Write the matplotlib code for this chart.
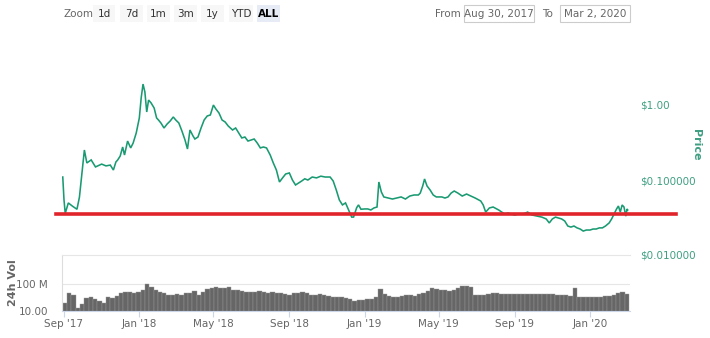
import matplotlib
matplotlib.use("Agg")
import matplotlib.pyplot as plt
import matplotlib.dates as mdates
from matplotlib.patches import Rectangle
from matplotlib.ticker import FixedLocator, FixedFormatter, NullLocator
import pandas as pd
from datetime import datetime

# ---------------- data ----------------
price_dates = [
    "2017-08-30", "2017-09-01", "2017-09-03", "2017-09-08", "2017-09-15", "2017-09-22", "2017-09-26",
    "2017-10-01", "2017-10-04", "2017-10-08", "2017-10-15", "2017-10-22",
    "2017-11-01", "2017-11-08", "2017-11-15", "2017-11-20", "2017-11-24", "2017-11-27",
    "2017-12-01", "2017-12-05", "2017-12-08", "2017-12-13", "2017-12-18", "2017-12-22", "2017-12-27",
    "2018-01-01", "2018-01-04", "2018-01-07", "2018-01-10", "2018-01-13", "2018-01-16", "2018-01-20", "2018-01-25", "2018-01-29",
    "2018-02-01", "2018-02-05", "2018-02-10", "2018-02-15", "2018-02-20", "2018-02-25",
    "2018-03-01", "2018-03-06", "2018-03-11", "2018-03-16", "2018-03-20", "2018-03-24", "2018-03-29",
    "2018-04-01", "2018-04-06", "2018-04-11", "2018-04-16", "2018-04-21", "2018-04-26",
    "2018-05-01", "2018-05-05", "2018-05-10", "2018-05-15", "2018-05-20", "2018-05-25",
    "2018-06-01", "2018-06-06", "2018-06-11", "2018-06-16", "2018-06-21", "2018-06-26",
    "2018-07-01", "2018-07-06", "2018-07-11", "2018-07-16", "2018-07-21", "2018-07-26",
    "2018-08-01", "2018-08-06", "2018-08-11", "2018-08-16", "2018-08-21", "2018-08-26",
    "2018-09-01", "2018-09-06", "2018-09-11", "2018-09-16", "2018-09-21", "2018-09-26",
    "2018-10-01", "2018-10-08", "2018-10-15", "2018-10-22", "2018-10-29",
    "2018-11-06", "2018-11-11", "2018-11-16", "2018-11-21", "2018-11-26",
    "2018-12-01", "2018-12-06", "2018-12-11", "2018-12-14", "2018-12-19", "2018-12-22", "2018-12-26",
    "2019-01-01", "2019-01-06", "2019-01-11", "2019-01-16", "2019-01-21", "2019-01-24", "2019-01-28",
    "2019-02-01", "2019-02-08", "2019-02-15", "2019-02-22",
    "2019-03-01", "2019-03-08", "2019-03-15", "2019-03-22", "2019-03-29",
    "2019-04-01", "2019-04-05", "2019-04-08", "2019-04-12", "2019-04-17", "2019-04-22", "2019-04-27",
    "2019-05-06", "2019-05-11", "2019-05-16", "2019-05-21", "2019-05-26",
    "2019-06-01", "2019-06-08", "2019-06-15", "2019-06-22", "2019-06-29",
    "2019-07-08", "2019-07-12", "2019-07-16", "2019-07-22", "2019-07-28",
    "2019-08-06", "2019-08-11", "2019-08-16", "2019-08-21", "2019-08-26",
    "2019-09-01", "2019-09-08", "2019-09-15", "2019-09-22", "2019-09-29",
    "2019-10-08", "2019-10-15", "2019-10-22", "2019-10-27",
    "2019-11-01", "2019-11-06", "2019-11-11", "2019-11-16", "2019-11-21", "2019-11-26",
    "2019-12-01", "2019-12-06", "2019-12-11", "2019-12-16", "2019-12-21", "2019-12-26",
    "2020-01-01", "2020-01-06", "2020-01-11", "2020-01-16", "2020-01-21", "2020-01-26",
    "2020-02-01", "2020-02-05", "2020-02-09", "2020-02-13", "2020-02-16", "2020-02-19", "2020-02-22", "2020-02-25", "2020-02-28",
    "2020-03-01", "2020-03-02",
]
price_values = [
    0.113, 0.056, 0.037, 0.051, 0.046, 0.042, 0.061,
    0.149, 0.259, 0.174, 0.191, 0.154,
    0.168, 0.159, 0.163, 0.140, 0.179, 0.191,
    0.215, 0.284, 0.222, 0.341, 0.276, 0.321, 0.437,
    0.692, 1.28, 1.96, 1.54, 0.832, 1.20, 1.10, 0.94, 0.692,
    0.651, 0.593, 0.509, 0.575, 0.631, 0.714,
    0.651, 0.593, 0.464, 0.352, 0.267, 0.479, 0.398,
    0.363, 0.386, 0.509, 0.651, 0.736, 0.759,
    1.03, 0.912, 0.807, 0.651, 0.612, 0.541,
    0.479, 0.509, 0.437, 0.375, 0.386, 0.341,
    0.352, 0.363, 0.321, 0.276, 0.284, 0.276,
    0.222, 0.174, 0.140, 0.097, 0.110, 0.124,
    0.128, 0.103, 0.0885, 0.094, 0.100, 0.107,
    0.103, 0.113, 0.110, 0.116, 0.113,
    0.113, 0.100, 0.0759, 0.0558, 0.048,
    0.051, 0.041, 0.033, 0.033, 0.044, 0.048, 0.042,
    0.0424, 0.0424, 0.0411, 0.0437, 0.045, 0.097, 0.0714,
    0.0613, 0.0593, 0.0575, 0.0593,
    0.0613, 0.0575, 0.0630, 0.0651, 0.0651,
    0.0690, 0.0858, 0.1064, 0.0858, 0.0759, 0.0651, 0.0613,
    0.0613, 0.0593, 0.0613, 0.0690, 0.0735,
    0.0690, 0.0630, 0.0670, 0.0630, 0.0593,
    0.0541, 0.0479, 0.0385, 0.0437, 0.0450,
    0.0411, 0.0385, 0.0364, 0.0374, 0.0364,
    0.0352, 0.0364, 0.0364, 0.0385, 0.0352,
    0.0340, 0.0330, 0.0312, 0.0276,
    0.0312, 0.0330, 0.0321, 0.0312, 0.0293, 0.0251,
    0.0243, 0.0251, 0.0237, 0.0229, 0.0215, 0.0222,
    0.0222, 0.0229, 0.0229, 0.0237, 0.0237, 0.0251,
    0.0276, 0.0312, 0.0364, 0.0424, 0.0464, 0.0385, 0.0479, 0.0450, 0.0340,
    0.0424, 0.0411,
]

# weekly 24h volume (in the chart's axis units), starting 2017-08-30
volume_start = "2017-08-30"
volume_values = [
    20, 48, 40, 13, 18, 30, 34, 28, 24, 20, 32, 30, 36, 45, 52, 50, 48, 50, 62, 100,
    75, 62, 52, 45, 39, 38, 41, 40, 48, 45, 55, 38, 52, 68, 73, 75, 74, 70, 75, 62,
    60, 55, 52, 52, 50, 53, 50, 48, 52, 45, 47, 44, 40, 48, 45, 52, 47, 40, 39, 41,
    38, 35, 34, 33, 32, 30, 27, 24, 26, 25, 27, 28, 34, 65, 42, 36, 34, 33, 36, 38,
    40, 37, 42, 45, 55, 72, 64, 60, 58, 57, 60, 70, 82, 82, 80, 40, 40, 39, 42, 47,
    45, 44, 43, 42, 43, 44, 44, 43, 42, 43, 43, 42, 41, 41, 40, 40, 38, 37, 70, 34,
    33, 32, 33, 34, 33, 35, 36, 40, 45, 50, 44,
]

support_level = 0.036
price_ticks = [1.0, 0.1, 0.01]
price_tick_labels = ["$1.00", "$0.100000", "$0.010000"]
vol_ticks = [10, 100]
vol_tick_labels = ["10.00", "100 M"]
zoom_buttons = ["1d", "7d", "1m", "3m", "1y", "YTD", "ALL"]
date_from = "Aug 30, 2017"
date_to = "Mar 2, 2020"

# ---------------- styling ----------------
plt.rcParams['font.family'] = ['Liberation Sans Narrow', 'DejaVu Sans']
GREEN = "#1a9a72"
LABEL_GREEN = "#3f9f82"
GREY_TXT = "#666666"

W, H = 710, 338
fig = plt.figure(figsize=(W / 100, H / 100), dpi=100)
fig.patch.set_facecolor("white")

def fx(px):
    return px / W

def fy(py):
    return 1 - py / H

# date <-> pixel mapping  (Sep 1 2017 at x=64, 0.6174 px/day)
ref = mdates.date2num(datetime(2017, 9, 1))
ppd = 0.6174
ax_left, ax_right = 62, 630
xlim = (ref - (64 - ax_left) / ppd, ref + (ax_right - 64) / ppd)

# ---------------- price axes ----------------
p_top, p_bot = 40, 256
axp = fig.add_axes([fx(ax_left), fy(p_bot), fx(ax_right - ax_left), (p_bot - p_top) / H])
axp.plot(pd.to_datetime(price_dates), price_values, color=GREEN, lw=1.15,
         solid_joinstyle="miter", zorder=3)
axp.set_yscale("log")
decade = 75.0
axp.set_ylim(0.01, 10 ** ((p_bot - p_top) / decade - 2))
axp.set_xlim(*xlim)
for s in axp.spines.values():
    s.set_visible(False)
axp.xaxis.set_major_locator(NullLocator())
axp.xaxis.set_minor_locator(NullLocator())
axp.yaxis.set_major_locator(NullLocator())
axp.yaxis.set_minor_locator(NullLocator())
axp.patch.set_alpha(0)
for v, lab in zip(price_ticks, price_tick_labels):
    axp.annotate(lab, xy=(1, v), xycoords=("axes fraction", "data"),
                 xytext=(10, 0), textcoords="offset pixels",
                 ha="left", va="center", fontsize=7.5, color=LABEL_GREEN,
                 annotation_clip=False)
fig.text(fx(696), fy(145), "Price", rotation=270, ha="center", va="center",
         fontsize=8, color=LABEL_GREEN, fontweight="bold")
axp.axhline(support_level, xmin=(56 - ax_left) / (ax_right - ax_left),
            xmax=(676 - ax_left) / (ax_right - ax_left),
            color="#e0242b", lw=2.6, clip_on=False, zorder=4)

# ---------------- volume axes ----------------
v_top, v_bot = 255, 311
axv = fig.add_axes([fx(ax_left), fy(v_bot), fx(ax_right - ax_left), (v_bot - v_top) / H])
vdates = pd.date_range(volume_start, periods=len(volume_values), freq="7D")
axv.bar(vdates, volume_values, width=7, align="edge", bottom=0.001,
        color="#666666", edgecolor="#9a9a9a", linewidth=0.3, zorder=2)
axv.set_yscale("log")
vdec = 27.0
axv.set_ylim(10, 10 ** (1 + (v_bot - v_top) / vdec))
axv.set_xlim(*xlim)
axv.yaxis.set_major_locator(FixedLocator(vol_ticks))
axv.yaxis.set_major_formatter(FixedFormatter(vol_tick_labels))
axv.yaxis.set_minor_locator(NullLocator())
axv.tick_params(axis="y", length=0, pad=10, labelsize=7.5, labelcolor=GREY_TXT)
axv.grid(axis="y", color="#e6e6e6", lw=0.8, zorder=0)
axv.xaxis.set_major_locator(mdates.MonthLocator(bymonth=[1, 5, 9], bymonthday=1))
axv.xaxis.set_major_formatter(mdates.DateFormatter("%b '%y"))
axv.tick_params(axis="x", length=4, color="#ccd6eb", labelsize=7.5, labelcolor=GREY_TXT, pad=2)
axv.spines["right"].set_visible(False)
axv.spines["top"].set_color("#e6e6e6")
axv.spines["left"].set_color("#dddddd")
axv.spines["bottom"].set_color("#ccd6eb")
for s in axv.spines.values():
    s.set_linewidth(0.8)
fig.text(fx(13), fy(283), "24h Vol", rotation=90, ha="center", va="center",
         fontsize=8, color=GREY_TXT, fontweight="bold")

# ---------------- top toolbar ----------------
fig.text(fx(63), fy(14), "Zoom", ha="left", va="center", fontsize=7.5, color=GREY_TXT)
btn_x = [93, 120, 147, 174, 201, 229, 257]
btn_w = [22, 23, 23, 23, 23, 24, 23]
for lab, bx, bw in zip(zoom_buttons, btn_x, btn_w):
    selected = lab == "ALL"
    fig.add_artist(Rectangle((fx(bx), fy(22)), fx(bw), 17 / H, transform=fig.transFigure,
                             facecolor="#e6ebf5" if selected else "#f7f7f7",
                             edgecolor="none", zorder=1))
    fig.text(fx(bx + bw / 2), fy(14), lab, ha="center", va="center", fontsize=7.5,
             color="#000000" if selected else "#333333",
             fontweight="bold" if selected else "normal", zorder=2)
fig.text(fx(435), fy(14), "From", ha="left", va="center", fontsize=7.5, color=GREY_TXT)
fig.add_artist(Rectangle((fx(464), fy(22)), fx(70), 17 / H, transform=fig.transFigure,
                         facecolor="white", edgecolor="#cccccc", lw=0.8))
fig.text(fx(499), fy(14), date_from, ha="center", va="center", fontsize=7.5, color=GREY_TXT)
fig.text(fx(542), fy(14), "To", ha="left", va="center", fontsize=7.5, color=GREY_TXT)
fig.add_artist(Rectangle((fx(560), fy(22)), fx(70), 17 / H, transform=fig.transFigure,
                         facecolor="white", edgecolor="#cccccc", lw=0.8))
fig.text(fx(595), fy(14), date_to, ha="center", va="center", fontsize=7.5, color=GREY_TXT)

fig.savefig("out.png", dpi=100, facecolor="white")
